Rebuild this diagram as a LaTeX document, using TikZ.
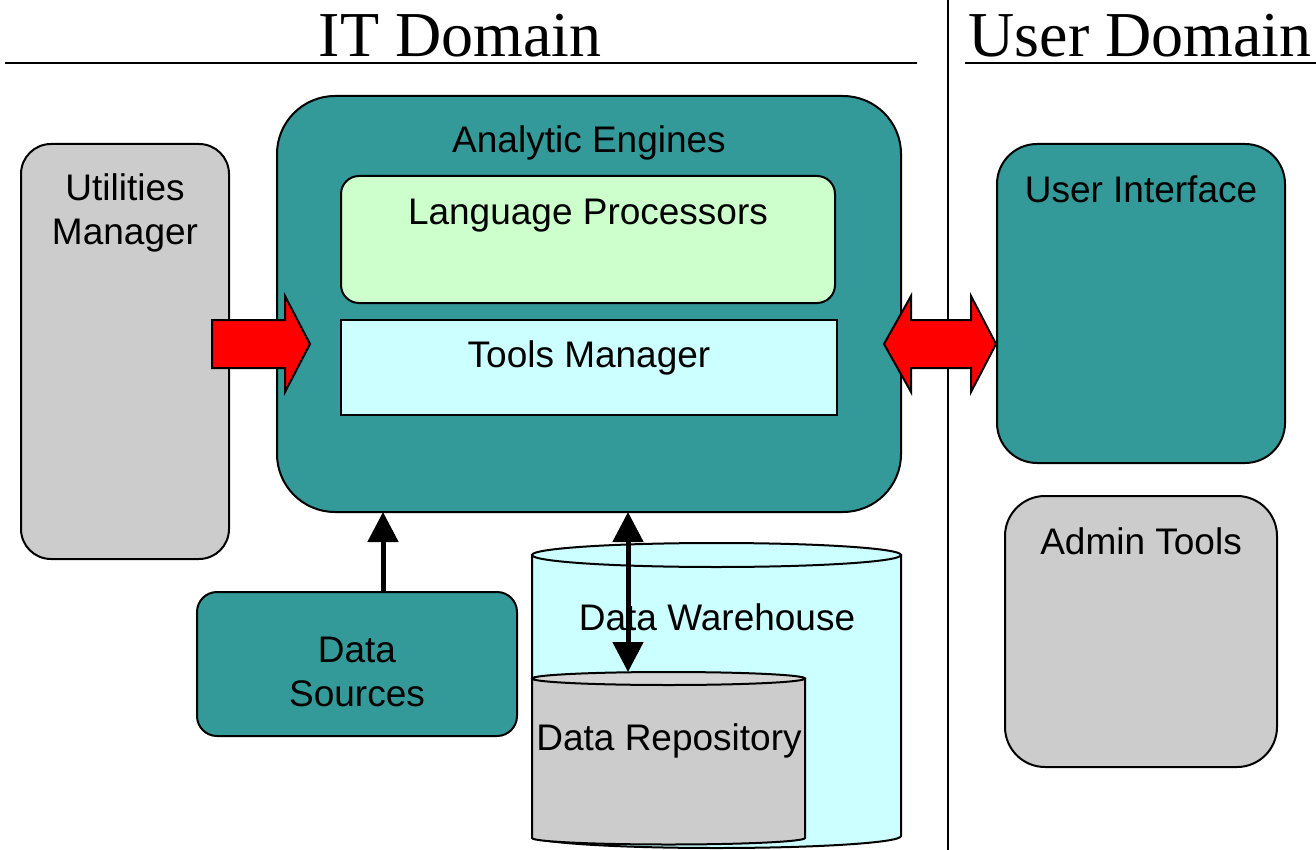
\documentclass[tikz,border=0pt]{standalone}
\usepackage{fontspec}
\setmainfont{Liberation Serif}
\setsansfont{Liberation Sans}
\usetikzlibrary{arrows.meta}
\definecolor{tealbox}{HTML}{339999}
\definecolor{graybox}{HTML}{CCCCCC}
\definecolor{graytop}{HTML}{D6D6D6}
\definecolor{greenbox}{HTML}{CCFFCC}
\definecolor{cyanbox}{HTML}{CCFFFF}
\definecolor{redarrow}{HTML}{FF0000}
\begin{document}
\begin{tikzpicture}[x=1pt,y=-1pt,
  box/.style={draw=black,line width=2pt,inner sep=0pt,outer sep=0pt,rectangle},
  lbl/.style={font=\sffamily\fontsize{37}{44}\selectfont,anchor=base,inner sep=0pt,align=center},
  ttl/.style={font=\rmfamily\fontsize{64}{64}\selectfont,anchor=base,inner sep=0pt},
  rule/.style={line width=2pt},
  blk/.style={line width=5pt,-{Triangle[length=30pt,width=30pt]}},
  blkboth/.style={line width=5pt,{Triangle[length=30pt,width=30pt]}-{Triangle[length=30pt,width=30pt]}},
  redarr/.style={fill=redarrow,draw=black,line width=2pt,line join=miter},
  cyl/.style={draw=black,line width=2pt}]
\useasboundingbox (0,0) rectangle (1316,850);

% titles and rules
\node[ttl] (itt) at (460,57) {IT Domain};
\node[ttl] (udt) at (1140,57) {User Domain};
\draw[rule] (5,63) -- (917,63);
\draw[rule] (965,63) -- (1316,63);
\draw[line width=1.5pt] (948,0) -- (948,850);

% boxes
\node[box,fill=graybox,minimum width=208pt,minimum height=415pt,rounded corners=30pt] (um) at (125,351.5) {};
\node[lbl] (umt) at (125,245) {Utilities\\Manager};

\node[box,fill=tealbox,minimum width=624pt,minimum height=416pt,rounded corners=58pt] (ae) at (589,304) {};
\node[lbl] (aet) at (589,153) {Analytic Engines};

\node[box,fill=greenbox,minimum width=494pt,minimum height=127pt,rounded corners=18pt] (lp) at (588,239.5) {};
\node[lbl] (lpt) at (588,225) {Language Processors};

\node[box,fill=cyanbox,minimum width=496pt,minimum height=95pt] (tm) at (589,367.5) {};
\node[lbl] (tmt) at (589,367) {Tools Manager};

\node[box,fill=tealbox,minimum width=288pt,minimum height=319pt,rounded corners=40pt] (ui) at (1141,303.5) {};
\node[lbl] (uit) at (1141,203) {User Interface};

\node[box,fill=graybox,minimum width=272pt,minimum height=271pt,rounded corners=40pt] (at) at (1141,631.5) {};
\node[lbl] (att) at (1141,554) {Admin Tools};

\node[box,fill=tealbox,minimum width=320pt,minimum height=144pt,rounded corners=20pt] (ds) at (357,664) {};
\node[lbl] (dst) at (357,706) {Data\\Sources};

% data warehouse cylinder
\filldraw[cyl,fill=cyanbox] (532,555) -- (532,836) arc[start angle=180,end angle=360,x radius=184.5pt,y radius=12pt] -- (901,555) -- cycle;
\filldraw[cyl,fill=cyanbox] (716.5,555) ellipse[x radius=184.5pt,y radius=12pt];
\node[lbl] (dwt) at (717,630) {Data Warehouse};

% data repository cylinder
\filldraw[cyl,fill=graybox] (532,678.5) -- (532,838) arc[start angle=180,end angle=360,x radius=136.5pt,y radius=6.5pt] -- (805,678.5) -- cycle;
\filldraw[cyl,fill=graytop] (668.5,678.5) ellipse[x radius=136.5pt,y radius=6.5pt];
\coordinate (drtop) at (628,672);
\node[lbl] (drt) at (669,750) {Data Repository};

% black arrows
\draw[blk] ([xshift=26pt]ds.north) -- ([xshift=26pt]ds.north |- ae.south);
\draw[blkboth] (ae.south -| drtop) -- (drtop);

% red block arrows
\filldraw[redarr] (212,320) -- (285,320) -- (285,296) -- (310,344) -- (285,392) -- (285,368) -- (212,368) -- cycle;
\filldraw[redarr] (884,344) -- (911,296) -- (911,320) -- (971,320) -- (971,296) -- (996,344) -- (971,392) -- (971,368) -- (911,368) -- (911,392) -- cycle;
\end{tikzpicture}
\end{document}
